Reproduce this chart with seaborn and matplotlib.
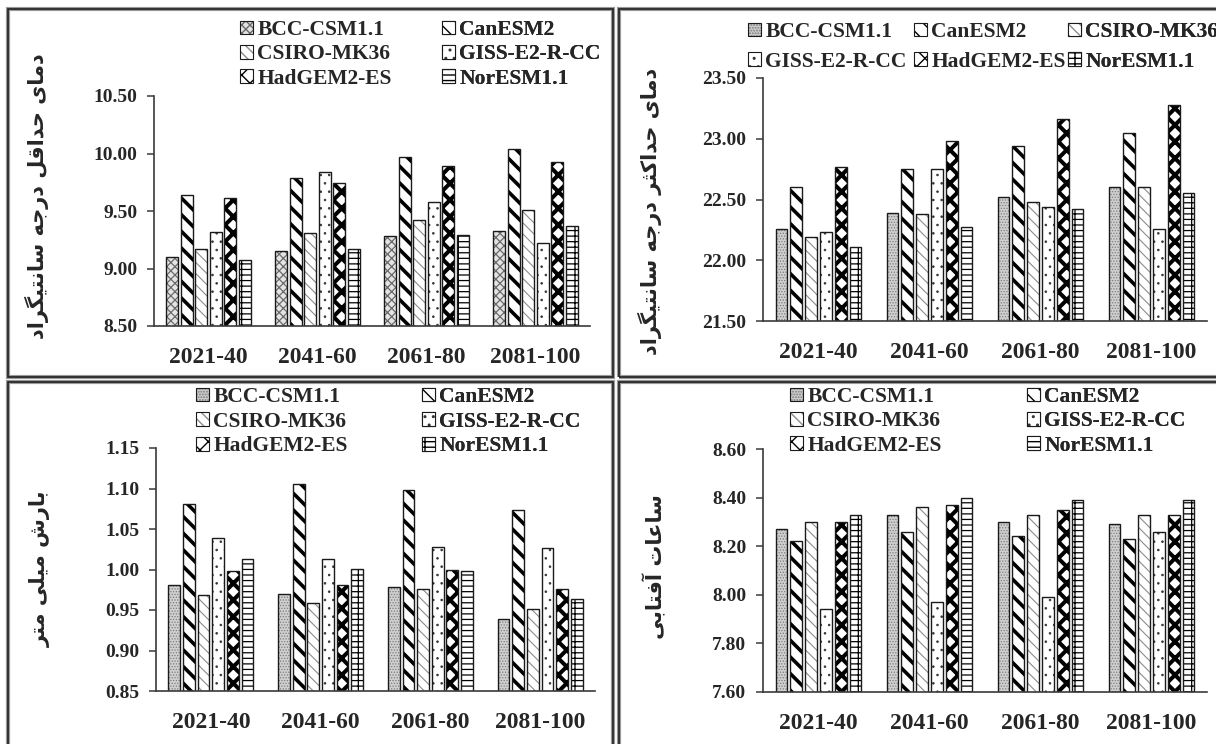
import matplotlib
matplotlib.use("Agg")
import matplotlib.pyplot as plt
import numpy as np
import pandas as pd
import seaborn as sns
from matplotlib.patches import Patch, Rectangle
from matplotlib.colors import to_rgba

# ---------------------------------------------------------------- data
periods = ["2021-40", "2041-60", "2061-80", "2081-100"]
models = ["BCC-CSM1.1", "CanESM2", "CSIRO-MK36", "GISS-E2-R-CC", "HadGEM2-ES", "NorESM1.1"]

# minimum temperature (deg C), one row per model, one column per period
tmin_values = [
    [9.10, 9.15, 9.28, 9.33],
    [9.64, 9.79, 9.97, 10.04],
    [9.17, 9.31, 9.42, 9.51],
    [9.32, 9.84, 9.58, 9.22],
    [9.61, 9.74, 9.89, 9.93],
    [9.07, 9.17, 9.29, 9.37],
]
# maximum temperature (deg C)
tmax_values = [
    [22.26, 22.39, 22.52, 22.60],
    [22.60, 22.75, 22.94, 23.05],
    [22.19, 22.38, 22.48, 22.60],
    [22.23, 22.75, 22.44, 22.26],
    [22.77, 22.98, 23.16, 23.28],
    [22.11, 22.27, 22.42, 22.55],
]
# precipitation (mm)
precip_values = [
    [0.981, 0.970, 0.979, 0.939],
    [1.081, 1.106, 1.098, 1.073],
    [0.968, 0.959, 0.976, 0.951],
    [1.039, 1.013, 1.028, 1.027],
    [0.998, 0.981, 0.999, 0.976],
    [1.013, 1.001, 0.998, 0.963],
]
# sunshine hours
sun_values = [
    [8.27, 8.33, 8.30, 8.29],
    [8.22, 8.26, 8.24, 8.23],
    [8.30, 8.36, 8.33, 8.33],
    [7.94, 7.97, 7.99, 8.26],
    [8.30, 8.37, 8.35, 8.33],
    [8.33, 8.40, 8.39, 8.39],
]

ylabel_tmin = "دمای حداقل درجه سانتیگراد"
ylabel_tmax = "دمای حداکثر درجه سانتیگراد"
ylabel_precip = "بارش میلی متر"
ylabel_sun = "ساعات آفتابی"

# ---------------------------------------------------------------- Persian shaping
# matplotlib has no complex text layout, so letters are turned into their
# contextual presentation forms and put into visual order here.
FORMS = {
    "\u0622": ("\uFE81", "\uFE82"),
    "\u0627": ("\uFE8D", "\uFE8E"),
    "\u062F": ("\uFEA9", "\uFEAA"),
    "\u0631": ("\uFEAD", "\uFEAE"),
    "\u0628": ("\uFE8F", "\uFE90", "\uFE91", "\uFE92"),
    "\u062A": ("\uFE95", "\uFE96", "\uFE97", "\uFE98"),
    "\u062B": ("\uFE99", "\uFE9A", "\uFE9B", "\uFE9C"),
    "\u062C": ("\uFE9D", "\uFE9E", "\uFE9F", "\uFEA0"),
    "\u062D": ("\uFEA1", "\uFEA2", "\uFEA3", "\uFEA4"),
    "\u0633": ("\uFEB1", "\uFEB2", "\uFEB3", "\uFEB4"),
    "\u0634": ("\uFEB5", "\uFEB6", "\uFEB7", "\uFEB8"),
    "\u0639": ("\uFEC9", "\uFECA", "\uFECB", "\uFECC"),
    "\u0641": ("\uFED1", "\uFED2", "\uFED3", "\uFED4"),
    "\u0642": ("\uFED5", "\uFED6", "\uFED7", "\uFED8"),
    "\u06A9": ("\uFB8E", "\uFB8F", "\uFB90", "\uFB91"),
    "\u06AF": ("\uFB92", "\uFB93", "\uFB94", "\uFB95"),
    "\u0644": ("\uFEDD", "\uFEDE", "\uFEDF", "\uFEE0"),
    "\u0645": ("\uFEE1", "\uFEE2", "\uFEE3", "\uFEE4"),
    "\u0646": ("\uFEE5", "\uFEE6", "\uFEE7", "\uFEE8"),
    "\u0647": ("\uFEE9", "\uFEEA", "\uFEEB", "\uFEEC"),
    "\u06CC": ("\uFBFC", "\uFBFD", "\uFBFE", "\uFBFF"),
}


def shape_persian(text):
    text = text.replace("\u064A", "\u06CC").replace("\u0643", "\u06A9")
    out = []
    for i, ch in enumerate(text):
        forms = FORMS.get(ch)
        if forms is None:
            out.append(ch)
            continue
        prev = text[i - 1] if i > 0 else ""
        nxt = text[i + 1] if i + 1 < len(text) else ""
        joins_prev = prev in FORMS and len(FORMS[prev]) == 4
        joins_next = len(forms) == 4 and nxt in FORMS
        if joins_prev and joins_next:
            out.append(forms[3])
        elif joins_prev:
            out.append(forms[1])
        elif joins_next:
            out.append(forms[2])
        else:
            out.append(forms[0])
    return "".join(reversed(out))


# ---------------------------------------------------------------- styling
sns.set_theme(style="ticks")
plt.rcParams["font.family"] = ["Liberation Serif", "DejaVu Sans"]
plt.rcParams["font.weight"] = "bold"
plt.rcParams["hatch.linewidth"] = 1.0

W, H = 1216, 744
fig = plt.figure(figsize=(W / 100, H / 100), dpi=100)
fig.patch.set_facecolor("white")

# fill colour, hatch, hatch colour, hatch line width for every model
BAR_STYLE = {
    "BCC-CSM1.1": ("#d0d0d0", "......", "#7c7c7c", 0.6),
    "CanESM2": ("white", "\\\\", "black", 2.6),
    "CSIRO-MK36": ("white", "\\\\\\", "#8c8c8c", 0.8),
    "GISS-E2-R-CC": ("white", "..", "#333333", 0.6),
    "HadGEM2-ES": ("white", "xx", "black", 2.9),
    "NorESM1.1": ("white", "---|", "black", 0.9),
}
BCC_TMIN_STYLE = ("#e4e4e4", "xxxx", "#6a6a6a", 0.9)


def style_patch(p, style):
    fc, hatch, hc, hlw = style
    p.set_facecolor(fc)
    p.set_edgecolor("#1a1a1a")
    p.set_hatch(hatch)
    p._hatch_color = to_rgba(hc)
    if hasattr(p, "set_hatch_linewidth"):
        p.set_hatch_linewidth(hlw)
    else:
        p._hatch_linewidth = hlw


def px_axes(left, right, top, bottom):
    return fig.add_axes([left / W, 1 - bottom / H, (right - left) / W, (bottom - top) / H])


def draw_panel(ax, values, ylim, step, styles):
    df = pd.DataFrame(
        [(p, m, v) for m, row in zip(models, values) for p, v in zip(periods, row)],
        columns=["period", "model", "value"],
    )
    sns.barplot(
        data=df, x="period", y="value", hue="model", order=periods, hue_order=models,
        palette={m: "white" for m in models}, edgecolor="#1a1a1a", linewidth=1.0,
        width=0.8, gap=0.2, errorbar=None, legend=False, ax=ax,
    )
    for m, cont in zip(models, ax.containers):
        for p in cont.patches:
            style_patch(p, styles[m])
    ax.set_ylim(*ylim)
    ax.set_yticks(np.arange(ylim[0], ylim[1] + step / 2, step))
    ax.yaxis.set_major_formatter(matplotlib.ticker.FormatStrFormatter("%.2f"))
    ax.set_xlabel("")
    ax.set_ylabel("")
    sns.despine(ax=ax)
    for s in ("left", "bottom"):
        ax.spines[s].set_color("#3a3a3a")
        ax.spines[s].set_linewidth(1.2)
    ax.tick_params(axis="y", length=5, width=1.1, color="#3a3a3a", pad=7, labelsize=14)
    ax.tick_params(axis="x", length=0, pad=15, labelsize=17)
    for t in ax.get_xticklabels() + ax.get_yticklabels():
        t.set_fontweight("bold")
    ax.set_facecolor("none")


def add_legend(ax, columns, xs, top, spacing, styles):
    for i, (col, x) in enumerate(zip(columns, xs)):
        handles = []
        for m in col:
            h = Patch(label=m)
            style_patch(h, styles[m])
            h.set_linewidth(0.8)
            handles.append(h)
        leg = ax.legend(
            handles=handles, loc="upper left", bbox_to_anchor=(x / W, 1 - top / H),
            bbox_transform=fig.transFigure, frameon=False, borderpad=0, borderaxespad=0,
            handlelength=0.6, handleheight=0.6, handletextpad=0.2, labelspacing=spacing,
            prop={"family": "Liberation Serif", "weight": "bold", "size": 15.5},
        )
        ax.add_artist(leg)


def frame(x0, y0, x1, y1):
    for lw, col in ((3.0, "#9a9a9a"), (1.2, "#202020")):
        fig.add_artist(Rectangle((x0 / W, 1 - y1 / H), (x1 - x0) / W, (y1 - y0) / H,
                                 transform=fig.transFigure, fill=False, lw=lw, edgecolor=col))


def ylabel(text, x, y):
    fig.text(x / W, 1 - y / H, shape_persian(text), rotation=90, ha="center", va="center",
             family="DejaVu Sans", weight="bold", fontsize=15)


# panel frames
frame(8, 9, 613, 377)
frame(619, 9, 1222, 377)
frame(8, 382, 613, 750)
frame(619, 382, 1222, 750)

tmin_styles = dict(BAR_STYLE)
tmin_styles["BCC-CSM1.1"] = BCC_TMIN_STYLE

# minimum temperature
ax1 = px_axes(154, 590, 96, 326)
draw_panel(ax1, tmin_values, (8.5, 10.5), 0.5, tmin_styles)
add_legend(ax1, [models[0::2], models[1::2]], [240, 442], 20, 0.2, tmin_styles)
ylabel(ylabel_tmin, 37, 196)

# maximum temperature
ax2 = px_axes(763, 1207, 78, 321)
draw_panel(ax2, tmax_values, (21.5, 23.5), 0.5, BAR_STYLE)
add_legend(ax2, [models[0::3], models[1::3], models[2::3]], [748, 914, 1068], 22, 0.45, BAR_STYLE)
ylabel(ylabel_tmax, 650, 211)

# precipitation
ax3 = px_axes(156, 595, 448, 691)
draw_panel(ax3, precip_values, (0.85, 1.15), 0.05, BAR_STYLE)
add_legend(ax3, [models[0::2], models[1::2]], [196, 422], 387, 0.22, BAR_STYLE)
ylabel(ylabel_precip, 40, 569)

# sunshine hours
ax4 = px_axes(763, 1207, 449, 692)
draw_panel(ax4, sun_values, (7.6, 8.6), 0.2, BAR_STYLE)
add_legend(ax4, [models[0::2], models[1::2]], [790, 1027], 387, 0.2, BAR_STYLE)
ylabel(ylabel_sun, 655, 567)

fig.savefig("out.png", dpi=100, facecolor="white")
